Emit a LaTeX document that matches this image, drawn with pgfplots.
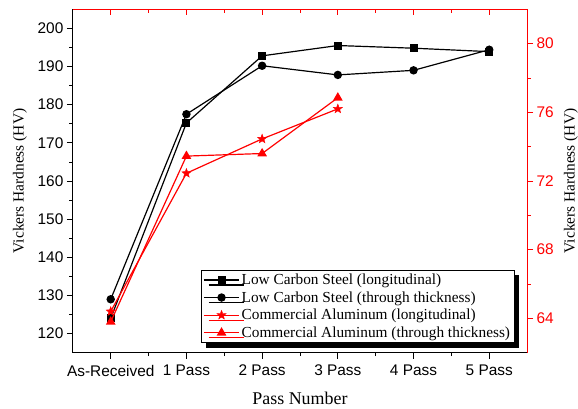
\documentclass[border=0pt]{standalone}
\usepackage{pgfplots}
\pgfplotsset{compat=1.18}
\usepackage{fontspec}
\setmainfont{Liberation Serif}
\newfontfamily\sansf{Liberation Sans}
\usetikzlibrary{shadows}
\definecolor{pred}{RGB}{255,0,0}
\pgfdeclareplotmark{fstar}{%
  \pgfpathmoveto{\pgfpointpolar{90}{\pgfplotmarksize}}%
  \pgfpathlineto{\pgfpointpolar{126}{0.42\pgfplotmarksize}}%
  \pgfpathlineto{\pgfpointpolar{162}{\pgfplotmarksize}}%
  \pgfpathlineto{\pgfpointpolar{198}{0.42\pgfplotmarksize}}%
  \pgfpathlineto{\pgfpointpolar{234}{\pgfplotmarksize}}%
  \pgfpathlineto{\pgfpointpolar{270}{0.42\pgfplotmarksize}}%
  \pgfpathlineto{\pgfpointpolar{306}{\pgfplotmarksize}}%
  \pgfpathlineto{\pgfpointpolar{342}{0.42\pgfplotmarksize}}%
  \pgfpathlineto{\pgfpointpolar{18}{\pgfplotmarksize}}%
  \pgfpathlineto{\pgfpointpolar{54}{0.42\pgfplotmarksize}}%
  \pgfpathclose
  \pgfusepathqfillstroke}
\begin{document}
\begin{tikzpicture}
\pgfplotsset{
  common/.style={
    width=455bp, height=344bp, scale only axis,
    xmin=-0.5, xmax=5.5,
    xtick={0,1,2,3,4,5},
    minor x tick num=1,
    minor y tick num=1,
    major tick length=6bp, minor tick length=3.5bp,
    tick label style={font=\fontsize{15.5}{18}\sansf},
    /pgf/number format/assume math mode=true,
    every axis plot/.append style={line width=1.2pt},
    legend image code/.code={\draw[mark repeat=2,mark phase=2] plot coordinates {(0cm,0cm) (0.62cm,0cm) (1.24cm,0cm)};},
  }
}
\begin{axis}[common, name=ax,
  ymin=115, ymax=205,
  axis x line*=bottom, axis y line*=left,
  ytick={120,130,...,200},
  tick align=outside,
  xticklabels={As-Received,1 Pass,2 Pass,3 Pass,4 Pass,5 Pass},
  x tick label style={yshift=-3bp},
  xlabel={Pass Number},
  ylabel={Vickers Hardness (HV)},
  xlabel style={font=\fontsize{18}{21}\selectfont, at={(axis description cs:0.5,-0.134)}, anchor=center, inner sep=0pt},
  ylabel style={font=\fontsize{15.5}{18}\selectfont, at={(axis description cs:-0.1165,0.5)}, anchor=center, rotate=0, inner sep=0pt},
  axis line style={line width=0.8pt, black},
  every tick/.style={black, line width=0.8pt},
]
\addplot[black, mark=square*, mark size=3.4bp] coordinates {
(0,124.0) (1,175.2) (2,192.8) (3,195.5) (4,194.8) (5,193.9)};
\addplot[black, mark=*, mark size=3.6bp] coordinates {
(0,129.0) (1,177.5) (2,190.2) (3,187.8) (4,189.0) (5,194.4)};
\end{axis}
\begin{axis}[common,
  ymin=62, ymax=82,
  axis x line*=top, axis y line*=right,
  ytick={64,68,72,76,80},
  xtick align=inside, ytick align=outside,
  xticklabels={},
  ylabel={Vickers Hardness (HV)},
  ylabel style={font=\fontsize{15.5}{18}\selectfont, at={(axis description cs:1.0967,0.5)}, anchor=center, inner sep=0pt},
  y tick label style={pred},
  axis line style={line width=0.8pt, pred},
  every tick/.style={pred, line width=0.8pt},
  legend style={font=\fontsize{15.4}{17}\selectfont, at={(0.972,0.028)}, anchor=south east,
    draw=black, line width=0.6pt, inner sep=2bp, row sep=1.5bp,
    drop shadow={shadow xshift=5bp, shadow yshift=-5bp, fill=black, opacity=1}},
  legend cell align=left,
]
\addlegendimage{black, line width=1.2pt, mark=square*, mark size=3.4bp}
\addlegendentry{Low Carbon Steel (longitudinal)}
\addlegendimage{black, line width=1.2pt, mark=*, mark size=3.6bp}
\addlegendentry{Low Carbon Steel (through thickness)}
\addplot[pred, mark=fstar, mark size=4.8bp, mark options={line width=0.4pt}] coordinates {
(0,64.4) (1,72.45) (2,74.45) (3,76.2)};
\addlegendentry{Commercial Aluminum (longitudinal)}
\addplot[pred, mark=triangle*, mark size=4.4bp] coordinates {
(0,63.8) (1,73.45) (2,73.6) (3,76.85)};
\addlegendentry{Commercial Aluminum (through thickness)}
\end{axis}
\path ([shift={(-73bp,-56bp)}]ax.south west) rectangle ([shift={(51bp,9.3bp)}]ax.north east);
\end{tikzpicture}
\end{document}
